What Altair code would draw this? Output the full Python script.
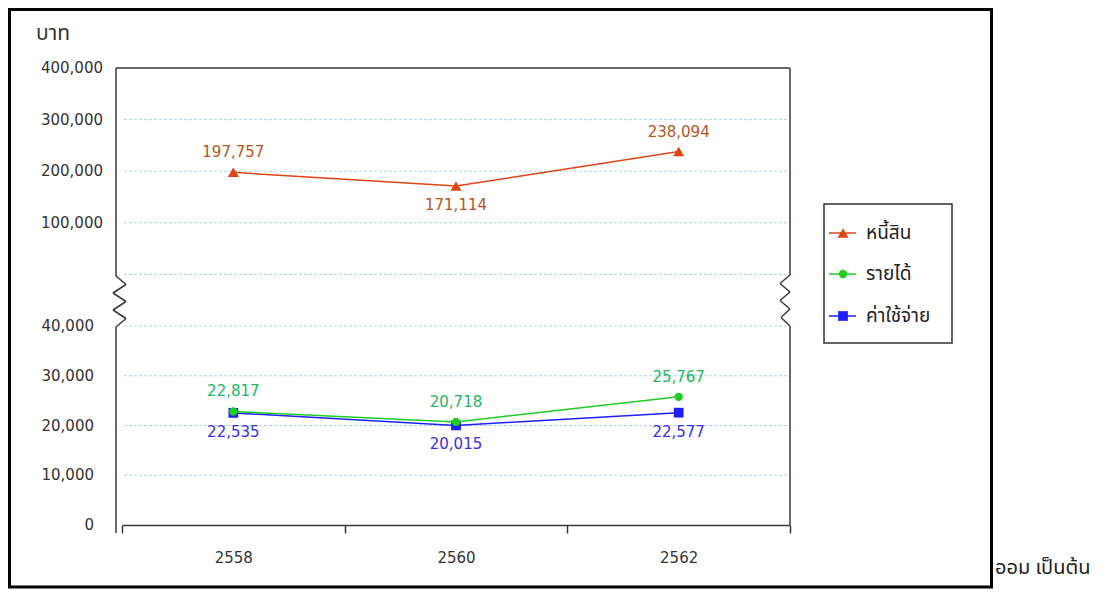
import altair as alt
import pandas as pd

# ---------------- data ----------------
years = ["2558", "2560", "2562"]
series_names = ["หนี้สิน", "รายได้", "ค่าใช้จ่าย"]
debt = [197757, 171114, 238094]
income = [22817, 20718, 25767]
expense = [22535, 20015, 22577]
low_ticks = [0, 10000, 20000, 30000, 40000]
high_ticks = [100000, 200000, 300000, 400000]
y_title = "บาท"
footer_text = "ออม เป็นต้น"
label_place = {
    "หนี้สิน": ["above", "below", "above"],
    "รายได้": ["above", "above", "above"],
    "ค่าใช้จ่าย": ["below", "below", "below"],
}

# ---------------- styling ----------------
W, H = 668, 457
NUM_FONT = "DejaVu Sans"
THAI_FONT = "Tahoma, 'Noto Sans Thai', 'Noto Sans', 'DejaVu Sans', sans-serif"
line_colors = {"หนี้สิน": "#dc4515", "รายได้": "#1fcc1f", "ค่าใช้จ่าย": "#1e1eff"}
label_colors = {"หนี้สิน": "#b4561e", "รายได้": "#22b566", "ค่าใช้จ่าย": "#3a2ee8"}
shapes = {"หนี้สิน": "triangle-up", "รายได้": "circle", "ค่าใช้จ่าย": "square"}
sizes = {"หนี้สิน": 120, "รายได้": 70, "ค่าใช้จ่าย": 95}
label_dy = {"above": -20, "below": 19}
AXIS_COLOR = "#3a3a3a"

BREAK_K = 5


def to_k(v):
    # broken axis: 0-40,000 on the lower part, 100,000-400,000 on the upper part
    return v / 10000 if v <= 40000 else BREAK_K + v / 100000


values = {"หนี้สิน": debt, "รายได้": income, "ค่าใช้จ่าย": expense}
rows = []
for s in series_names:
    for i, y in enumerate(years):
        v = values[s][i]
        rows.append({"year": y, "series": s, "value": v, "k": to_k(v),
                     "place": label_place[s][i]})
df = pd.DataFrame(rows)

yscale = alt.Scale(domain=[0, 4, 9], range=[H, 258, 0], nice=False, zero=False)
xscale = alt.Scale(type="band", domain=years, paddingInner=0, paddingOuter=0)
xaxis = alt.Axis(title=None, labelAngle=0, tickBand="extent", domainColor=AXIS_COLOR,
                 domainWidth=1.5, tickColor=AXIS_COLOR, tickWidth=1.5, tickSize=8,
                 labelFont=NUM_FONT, labelFontSize=15, labelColor="#333333",
                 labelPadding=17, grid=False)

X = alt.X("year:N", scale=xscale, axis=xaxis)
Y = alt.Y("k:Q", scale=yscale, axis=None)

one = alt.Data(values=[{"a": 1}])

layers = []

# gridlines
grid_k = [to_k(t) for t in low_ticks[1:]] + [BREAK_K] + [to_k(t) for t in high_ticks[:-1]]
grid_df = pd.DataFrame({"k": grid_k})
layers.append(alt.Chart(grid_df).mark_rule(color="#a6d4e4", strokeDash=[3, 2], strokeWidth=1)
              .encode(y=Y, x=alt.value(2), x2=alt.value(W)))


def seg(x1, y1, x2, y2, color=AXIS_COLOR, w=1.5):
    return alt.Chart(one).mark_rule(color=color, strokeWidth=w).encode(
        x=alt.value(x1), x2=alt.value(x2), y=alt.value(y1), y2=alt.value(y2))


def polyline(xs, ys):
    return [seg(xs[i], ys[i], xs[i + 1], ys[i + 1]) for i in range(len(xs) - 1)]


# top border, left axis with break, right border with break
layers.append(seg(-6, 0, W, 0))
lx = [-6, -6, 4, -9, 4, -9, 4, -6, -6]
ly = [0, 208, 216.5, 225, 233.5, 242, 250.5, 259, H + 8]
layers += polyline(lx, ly)
rx = [W, W, W - 10, W, W - 10, W, W - 9, W, W]
ry = [0, 207, 215.5, 224, 232.5, 241, 249.5, 258, H]
layers += polyline(rx, ry)

# series lines, markers, labels (drawn so that the green series sits on top of blue)
for s in ["ค่าใช้จ่าย", "รายได้", "หนี้สิน"]:
    d = df[df.series == s]
    layers.append(alt.Chart(d).mark_line(color=line_colors[s], strokeWidth=1.5).encode(x=X, y=Y))
    layers.append(alt.Chart(d).mark_point(filled=True, opacity=1, shape=shapes[s], size=sizes[s],
                                          color=line_colors[s]).encode(x=X, y=Y))
    for p in ["above", "below"]:
        dp = d[d.place == p]
        if len(dp):
            layers.append(alt.Chart(dp).mark_text(font=NUM_FONT, fontSize=15, color=label_colors[s],
                                                  dy=label_dy[p], baseline="middle")
                          .encode(x=X, y=Y, text=alt.Text("value:Q", format=",")))

# y tick labels
low_df = pd.DataFrame({"value": low_ticks, "k": [to_k(v) for v in low_ticks]})
high_df = pd.DataFrame({"value": high_ticks, "k": [to_k(v) for v in high_ticks]})
layers.append(alt.Chart(low_df).mark_text(font=NUM_FONT, fontSize=15, color="#333333", align="right",
                                          baseline="middle")
              .encode(y=Y, x=alt.value(-28), text=alt.Text("value:Q", format=",")))
layers.append(alt.Chart(high_df).mark_text(font=NUM_FONT, fontSize=15, color="#333333", align="right",
                                           baseline="middle")
              .encode(y=Y, x=alt.value(-19), text=alt.Text("value:Q", format=",")))

# y title
layers.append(alt.Chart(one).mark_text(font=THAI_FONT, fontSize=21, color="#333333", align="left",
                                       baseline="middle", text=y_title)
              .encode(x=alt.value(-86), y=alt.value(-34)))

# legend
layers.append(alt.Chart(one).mark_rect(fillOpacity=0, stroke="#333333", strokeWidth=1.5).encode(
    x=alt.value(702), x2=alt.value(830), y=alt.value(136), y2=alt.value(275)))
leg_y = [165, 206, 248]
for s, yy in zip(series_names, leg_y):
    layers.append(seg(707, yy, 734, yy, color=line_colors[s], w=1.5))
    layers.append(alt.Chart(one).mark_point(filled=True, opacity=1, shape=shapes[s], size=sizes[s],
                                            color=line_colors[s])
                  .encode(x=alt.value(721), y=alt.value(yy)))
    layers.append(alt.Chart(one).mark_text(font=THAI_FONT, fontSize=19, color="#222222", align="left",
                                           baseline="middle", text=s)
                  .encode(x=alt.value(744), y=alt.value(yy)))

# outer frame
layers.append(alt.Chart(one).mark_rect(fillOpacity=0, stroke="#000000", strokeWidth=3).encode(
    x=alt.value(-112.5), x2=alt.value(869.5), y=alt.value(-58.5), y2=alt.value(519)))

# footer text fragment
layers.append(alt.Chart(one).mark_text(font=THAI_FONT, fontSize=20, color="#222222", align="left",
                                       baseline="alphabetic", text=footer_text)
              .encode(x=alt.value(873), y=alt.value(506)))

chart = alt.layer(*layers).properties(
    width=W, height=H,
    padding={"left": 114, "top": 60, "right": 315, "bottom": 64},
    autosize=alt.AutoSizeParams(type="none"),
).configure_view(stroke=None)

chart.save("out.html", embed_options={"renderer": "svg", "actions": False})
